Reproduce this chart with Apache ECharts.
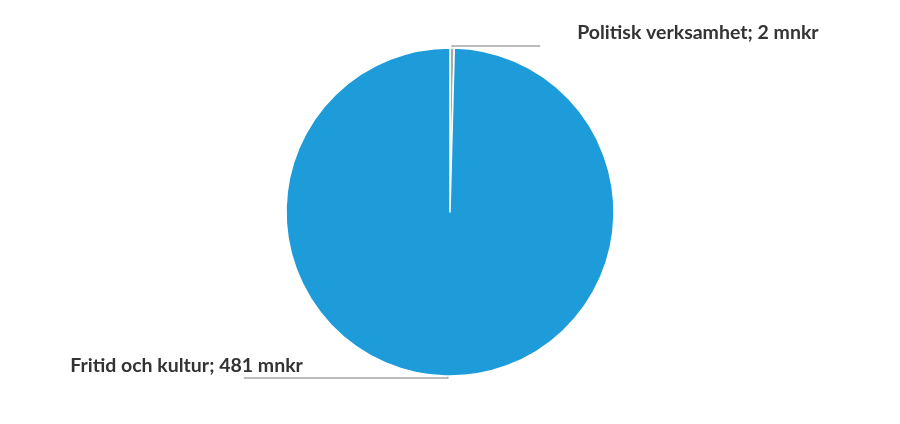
<!DOCTYPE html>
<html>
<head>
<meta charset="utf-8">
<script src="https://cdn.jsdelivr.net/npm/echarts@6/dist/echarts.min.js"></script>
<style>
  html, body { margin: 0; padding: 0; background: #fff; }
  #chart { width: 900px; height: 424px; }
</style>
</head>
<body>
<div id="chart"></div>
<script>
var categories = ["Politisk verksamhet", "Fritid och kultur"];
var values = [2, 481];
var unit = "mnkr";

var colors = ["#a9a9a9", "#1e9cd9"];
var lineLength2 = [88, 204];
// label offset from line end: [dx, dy, align]
var labelShift = [[37, -13, "left"], [59, -12, "right"]];

var chart = echarts.init(document.getElementById("chart"));

chart.setOption({
    animation: false,
    series: [{
        type: "pie",
        center: [450, 212],
        radius: [0, 164],
        startAngle: 90,
        clockwise: true,
        itemStyle: { borderColor: "#fff", borderWidth: 1.5 },
        label: {
            show: true,
            formatter: function (p) { return p.name + "; " + p.value + " " + unit; },
            fontFamily: "Lato",
            fontWeight: "bold",
            fontSize: 19.5,
            color: "#333",
            overflow: "none"
        },
        labelLine: {
            show: true,
            length: 2,
            smooth: false,
            lineStyle: { color: "#a8a8a8", width: 1.5 }
        },
        labelLayout: function (params) {
            var i = params.dataIndex;
            var pts = params.labelLinePoints;
            if (!pts) return {};
            var end = pts[pts.length - 1];
            var s = labelShift[i];
            return {
                x: end[0] + s[0],
                y: end[1] + s[1],
                align: s[2],
                verticalAlign: "middle",
                labelLinePoints: pts
            };
        },
        emphasis: { disabled: true },
        data: categories.map(function (c, i) {
            return {
                name: c,
                value: values[i],
                itemStyle: { color: colors[i] },
                labelLine: { length2: lineLength2[i] }
            };
        })
    }]
});
</script>
</body>
</html>
